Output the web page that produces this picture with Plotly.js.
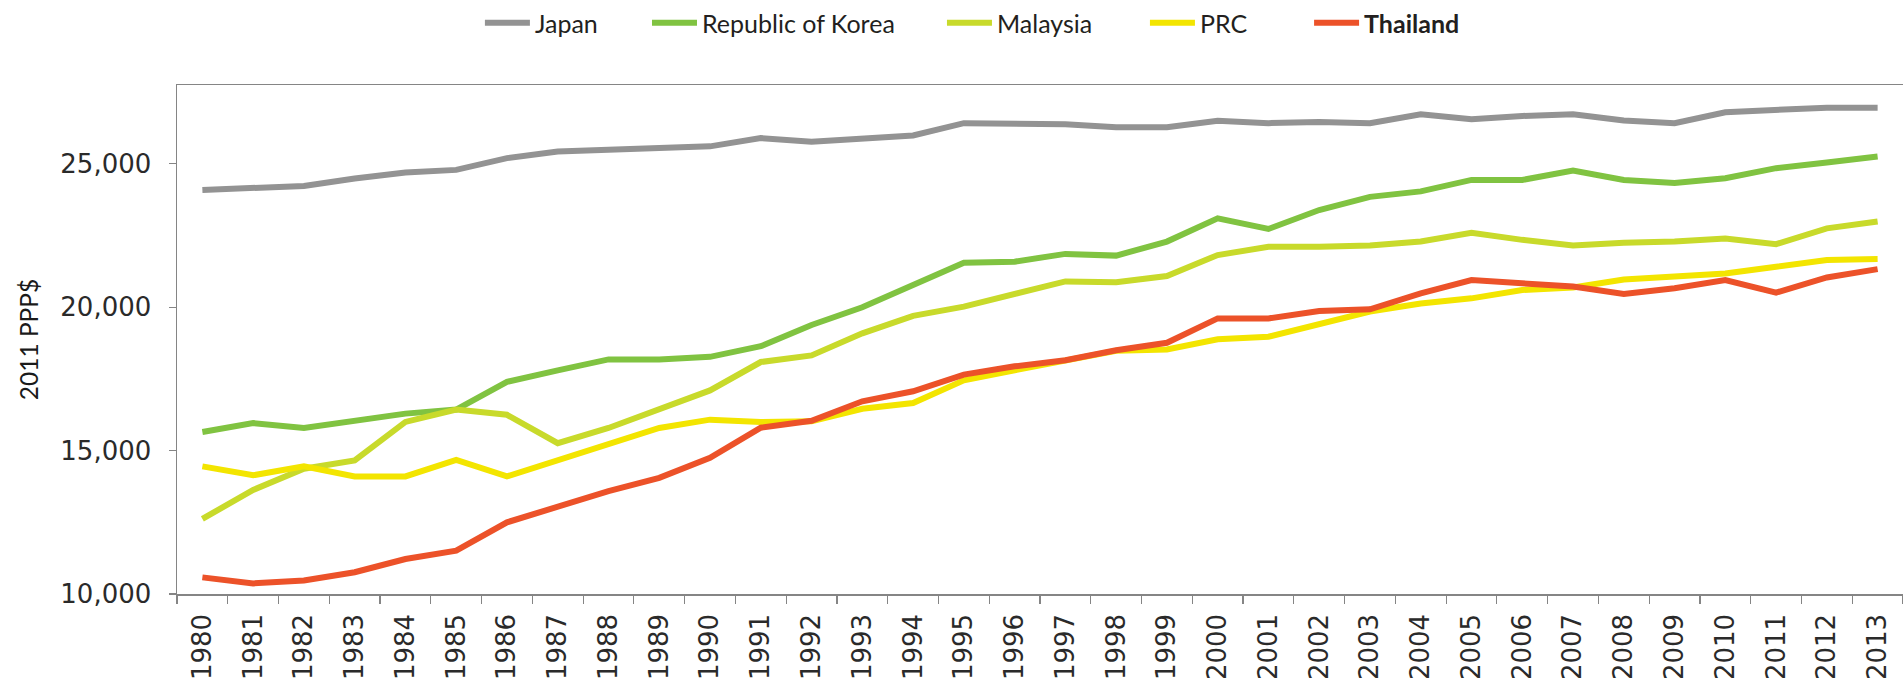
<!DOCTYPE html>
<html>
<head>
<meta charset="utf-8">
<script src="https://cdn.plot.ly/plotly-3.0.1.min.js"></script>
<style>
  html, body { margin: 0; padding: 0; background: #ffffff; }
  #chart { width: 1903px; height: 680px; }
</style>
</head>
<body>
<div id="chart"></div>
<script>
const years = ["1980","1981","1982","1983","1984","1985","1986","1987","1988","1989",
  "1990","1991","1992","1993","1994","1995","1996","1997","1998","1999",
  "2000","2001","2002","2003","2004","2005","2006","2007","2008","2009",
  "2010","2011","2012","2013"];

const japan = [24090,24180,24230,24490,24700,24790,25200,25430,25470,25550,
  25610,25900,25770,25870,25990,26420,26420,26380,26280,26280,
  26500,26420,26460,26420,26730,26560,26670,26730,26510,26420,
  26800,26860,26960,26960];

const korea = [15650,15960,15790,16060,16290,16430,17400,17800,18180,18180,
  18270,18640,19380,20000,20760,21550,21590,21860,21800,22290,
  23100,22730,23390,23850,24040,24440,24440,24770,24440,24330,
  24500,24850,25050,25260];

const malaysia = [12620,13630,14370,14660,16000,16430,16250,15260,15790,16460,
  17100,18090,18320,19090,19700,20020,20450,20900,20870,21090,
  21820,22110,22110,22150,22290,22600,22350,22150,22250,22290,
  22400,22200,22750,22990];

const prc = [14450,14140,14450,14100,14100,14680,14100,14680,15260,15790,
  16080,16000,16020,16460,16660,17450,17800,18120,18480,18530,
  18880,18970,19430,19850,20130,20310,20600,20690,20970,21070,
  21180,21410,21650,21680];

const thailand = [10580,10370,10470,10760,11220,11510,12500,13030,13590,14050,
  14750,15800,16040,16720,17070,17650,17940,18150,18500,18760,
  19610,19610,19870,19930,20480,20950,20830,20720,20460,20660,
  20950,20510,21040,21330];

const seriesNames = ["Japan", "Republic of Korea", "Malaysia", "PRC", "<b>Thailand</b>"];
const seriesValues = [japan, korea, malaysia, prc, thailand];
const seriesColors = ["#939393", "#80c341", "#c8da2b", "#f3e500", "#ec5229"];
const legendIds = ["legend", "legend2", "legend3", "legend4", "legend5"];
const legendX = [0.1755, 0.2723, 0.4432, 0.5608, 0.6559];

const yTicks = [10000, 15000, 20000, 25000];

const traces = seriesValues.map((vals, i) => ({
  type: "scatter",
  mode: "lines",
  name: seriesNames[i],
  legend: legendIds[i],
  x: years,
  y: vals,
  line: { color: seriesColors[i], width: 6 },
  hoverinfo: "x+y+name"
}));

const axisColor = "#858585";

const layout = {
  width: 1903,
  height: 680,
  margin: { l: 177, r: 0, t: 85, b: 86 },
  paper_bgcolor: "#ffffff",
  plot_bgcolor: "#ffffff",
  showlegend: true,
  xaxis: {
    type: "category",
    range: [-0.5, 33.5],
    showline: true,
    linecolor: axisColor,
    linewidth: 1.5,
    mirror: true,
    showgrid: false,
    zeroline: false,
    ticks: "outside",
    tickson: "boundaries",
    ticklen: 8,
    tickwidth: 1.2,
    tickcolor: axisColor,
    tickangle: -90,
    ticklabelstandoff: 8,
    tickfont: { family: "'DejaVu Sans', sans-serif", size: 26, color: "#2a2a2a" }
  },
  yaxis: {
    range: [10000, 27750],
    tickvals: yTicks,
    tickformat: ",d",
    showline: true,
    linecolor: axisColor,
    linewidth: 1.5,
    mirror: false,
    showgrid: false,
    zeroline: false,
    ticks: "outside",
    ticklen: 7,
    tickwidth: 1.2,
    tickcolor: axisColor,
    ticklabelstandoff: 12,
    tickfont: { family: "'DejaVu Sans', sans-serif", size: 26, color: "#2a2a2a" },
    title: {
      text: "2011 PPP$",
      standoff: 14,
      font: { family: "Lato, 'Liberation Sans', sans-serif", size: 24.5, color: "#1a1a1a" }
    }
  }
};

legendIds.forEach((id, i) => {
  layout[id] = {
    orientation: "h",
    x: legendX[i],
    xanchor: "left",
    y: 1.122,
    yanchor: "middle",
    font: { family: "Lato, 'Liberation Sans', sans-serif", size: 25, color: "#231f20" },
    itemwidth: 45,
    bgcolor: "rgba(0,0,0,0)"
  };
});

Plotly.newPlot("chart", traces, layout, { displayModeBar: false, staticPlot: true });
</script>
</body>
</html>
